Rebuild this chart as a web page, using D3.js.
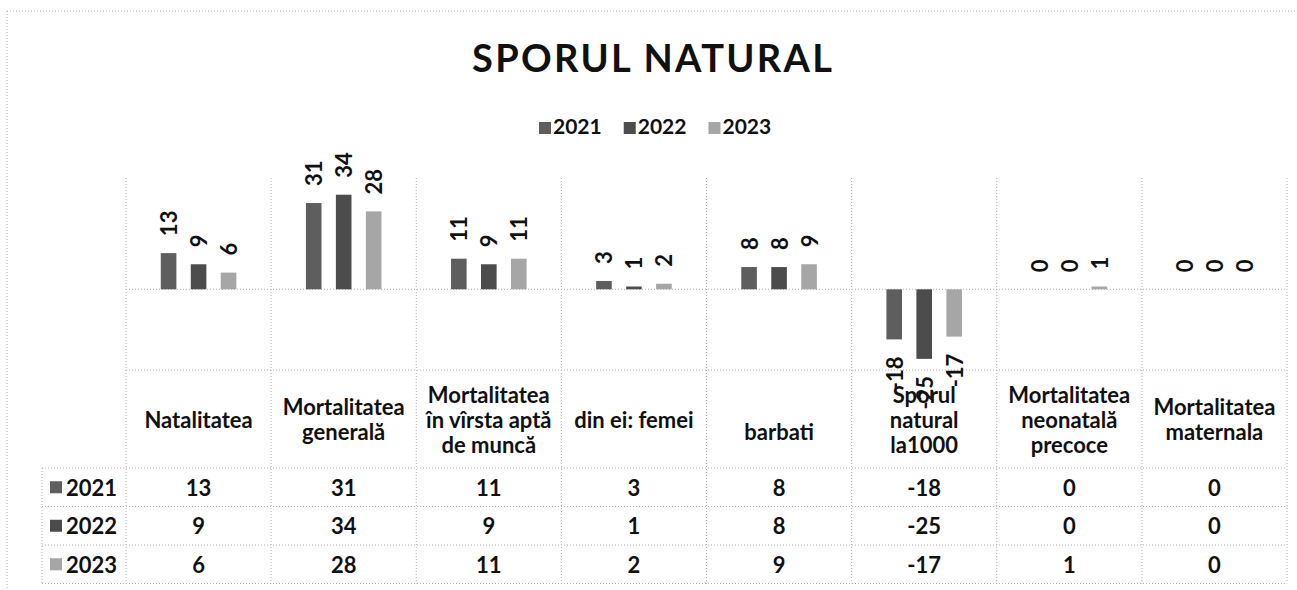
<html>
<head>
<meta charset="utf-8">
<script src="https://d3js.org/d3.v7.min.js"></script>
<style>
  body { margin: 0; background: #fff; }
  svg { display: block; font-family: Lato, "Open Sans", sans-serif; font-weight: bold; }
  .grid { stroke: #b0b0b0; stroke-width: 1; stroke-dasharray: 1,2; fill: none; }
</style>
</head>
<body>
<svg id="chart" width="1297" height="590"></svg>
<script>
// data
const years = ["2021", "2022", "2023"];
const categories = ["Natalitatea", "Mortalitatea generală", "Mortalitatea în vîrsta aptă de muncă",
  "din ei: femei", "barbati", "Sporul natural la1000", "Mortalitatea neonatală precoce", "Mortalitatea maternala"];
const headerLines = [["Natalitatea"], ["Mortalitatea", "generală"], ["Mortalitatea", "în vîrsta aptă", "de muncă"],
  ["din ei: femei"], ["", "barbati"], ["Sporul", "natural", "la1000"], ["Mortalitatea", "neonatală", "precoce"],
  ["Mortalitatea", "maternala"]];
const v2021 = [13, 31, 11, 3, 8, -18, 0, 0];
const v2022 = [9, 34, 9, 1, 8, -25, 0, 0];
const v2023 = [6, 28, 11, 2, 9, -17, 1, 0];
const colors = ["#5e5e5e", "#4c4c4c", "#a6a6a6"];

const series = years.map((y, i) => ({ year: y, values: [v2021, v2022, v2023][i], color: colors[i] }));

const svg = d3.select("#chart");
const ink = "#111";

const x0 = d3.scaleBand().domain(categories).range([126, 1287]);
const x1 = d3.scaleBand().domain(years).range([0, x0.bandwidth()]).paddingInner(0.48).paddingOuter(1.16);
const y = d3.scaleLinear().domain([-29, 40]).range([370, 178]);

const tableTop = 370, headerBottom = 468, rowH = 38.5;
const tableBottom = headerBottom + rowH * years.length;

// chart border (top and left visible in the scan)
svg.append("line").attr("class", "grid").attr("x1", 7).attr("x2", 1297).attr("y1", 11).attr("y2", 11);
svg.append("line").attr("class", "grid").attr("x1", 7).attr("x2", 7).attr("y1", 11).attr("y2", 590);

// title + legend
svg.append("text").attr("x", 652).attr("y", 72).attr("text-anchor", "middle")
  .attr("font-size", 38).attr("fill", ink)
  .attr("textLength", 360).attr("lengthAdjust", "spacing")
  .text("SPORUL NATURAL");

const legend = svg.append("g").attr("transform", "translate(539,134)");
let lx = 0;
series.forEach(s => {
  const g = legend.append("g").attr("transform", `translate(${lx},0)`);
  g.append("rect").attr("x", 0).attr("y", -12).attr("width", 12).attr("height", 12).attr("fill", s.color);
  const t = g.append("text").attr("x", 14).attr("y", 0).attr("font-size", 21).attr("fill", ink).text(s.year);
  lx += 14 + t.node().getComputedTextLength() + 22;
});

// gridlines
const bounds = x0.domain().map(c => x0(c)).concat([x0.range()[1]]);
svg.selectAll(".vgrid").data(bounds).join("line").attr("class", "grid")
  .attr("x1", d => d).attr("x2", d => d).attr("y1", 178).attr("y2", tableBottom);
svg.append("line").attr("class", "grid").attr("x1", 126).attr("x2", 1287).attr("y1", y(0)).attr("y2", y(0));
svg.append("line").attr("class", "grid").attr("x1", 126).attr("x2", 1287).attr("y1", tableTop).attr("y2", tableTop);
d3.range(years.length + 1).forEach(i => {
  svg.append("line").attr("class", "grid").attr("x1", 42).attr("x2", 1287)
    .attr("y1", headerBottom + i * rowH).attr("y2", headerBottom + i * rowH);
});
svg.append("line").attr("class", "grid").attr("x1", 42).attr("x2", 42).attr("y1", headerBottom).attr("y2", tableBottom);

// bars + labels
series.forEach(s => {
  const g = svg.append("g");
  g.selectAll("rect").data(s.values).join("rect")
    .attr("x", (d, i) => x0(categories[i]) + x1(s.year))
    .attr("width", x1.bandwidth())
    .attr("y", d => y(Math.max(0, d)))
    .attr("height", d => Math.max(Math.abs(y(d) - y(0)), d === 0 ? 0 : 1))
    .attr("fill", s.color);
  g.selectAll("text").data(s.values).join("text")
    .attr("font-size", 22).attr("fill", ink)
    .attr("dominant-baseline", "central")
    .attr("text-anchor", d => d < 0 ? "end" : "start")
    .attr("transform", (d, i) => {
      const cx = x0(categories[i]) + x1(s.year) + x1.bandwidth() / 2;
      const cy = d < 0 ? y(d) + 17 : y(d) - 17;
      return `translate(${cx},${cy}) rotate(-90)`;
    })
    .text(d => d);
});

// data table header
categories.forEach((c, i) => {
  const lines = headerLines[i];
  const cx = x0(c) + x0.bandwidth() / 2;
  const cy = (tableTop + headerBottom) / 2;
  const lh = 25;
  lines.forEach((ln, j) => {
    svg.append("text").attr("x", cx).attr("y", cy + (j - (lines.length - 1) / 2) * lh)
      .attr("text-anchor", "middle").attr("dominant-baseline", "central")
      .attr("font-size", 22).attr("fill", ink).text(ln);
  });
});

// data table rows
series.forEach((s, r) => {
  const cy = headerBottom + rowH * r + rowH / 2;
  svg.append("rect").attr("x", 50).attr("y", cy - 6).attr("width", 12).attr("height", 12).attr("fill", s.color);
  svg.append("text").attr("x", 66).attr("y", cy).attr("dominant-baseline", "central")
    .attr("font-size", 22).attr("fill", ink).text(s.year);
  s.values.forEach((v, i) => {
    svg.append("text").attr("x", x0(categories[i]) + x0.bandwidth() / 2).attr("y", cy)
      .attr("text-anchor", "middle").attr("dominant-baseline", "central")
      .attr("font-size", 22).attr("fill", ink).text(v);
  });
});
</script>
</body>
</html>
